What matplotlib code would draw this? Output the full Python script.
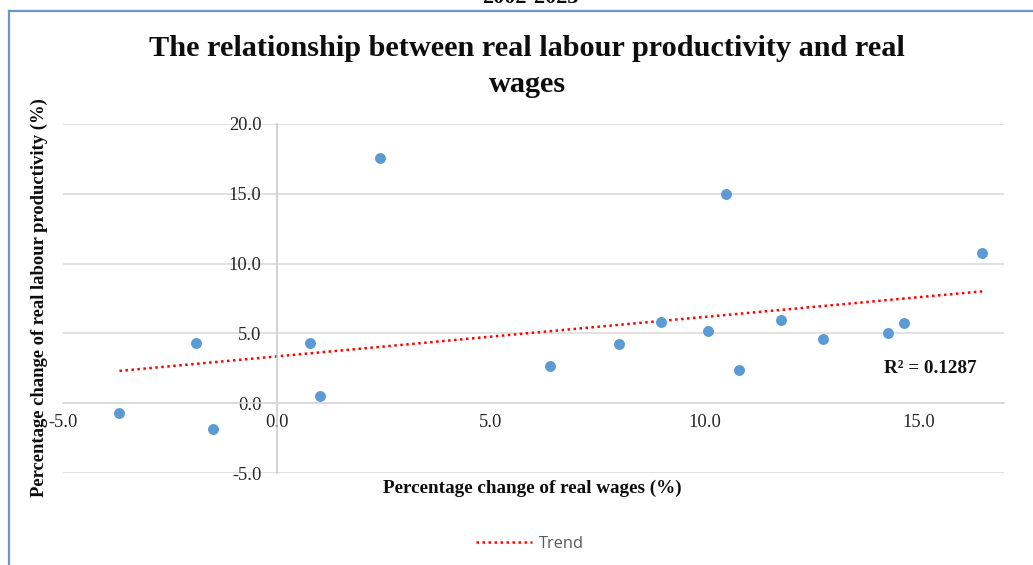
import numpy as np
import matplotlib
matplotlib.use("Agg")
import matplotlib.pyplot as plt
from matplotlib.lines import Line2D

# Annual percentage changes, 2002-2023
wage_change = [-3.68, -1.90, -1.49, 0.78, 1.02, 2.42, 6.39, 7.99, 8.98,
               10.07, 10.50, 10.80, 11.79, 12.78, 14.29, 14.66, 16.49]
productivity_change = [-0.68, 4.34, -1.87, 4.34, 0.55, 17.60, 2.63, 4.24, 5.83,
                       5.15, 14.95, 2.40, 5.95, 4.58, 5.00, 5.71, 10.73]
x_ticks = [-5, 0, 5, 10, 15]
y_ticks = [-5, 0, 5, 10, 15, 20]
r_squared_label = "R\u00b2 = 0.1287"

SERIF = "Liberation Serif"
GRID = "#d9d9d9"
AXIS = "#c8c8c8"
DOT = "#5b9bd5"
TICK_TXT = "#262626"

fig = plt.figure(figsize=(10.33, 5.65), dpi=100)
W, H = 1033, 565
ax = fig.add_axes([63 / W, 1 - 473 / H, (1004 - 63) / W, (473 - 124) / H])

ax.set_xlim(-5, 17)
ax.set_ylim(-5, 20)
ax.set_xticks(x_ticks)
ax.set_yticks(y_ticks)
ax.set_xticklabels([f"{v:.1f}" for v in x_ticks])
ax.set_yticklabels([f"{v:.1f}" for v in y_ticks])

# Axes cross at the origin, Excel style
for side in ("top", "right"):
    ax.spines[side].set_visible(False)
ax.spines["left"].set_position(("data", 0))
ax.spines["bottom"].set_position(("data", 0))
ax.spines["left"].set_color(AXIS)
ax.spines["left"].set_linewidth(1.1)
ax.spines["bottom"].set_color(GRID)
ax.spines["bottom"].set_linewidth(1.1)
ax.tick_params(axis="both", length=0, labelsize=13.3, labelcolor=TICK_TXT)
ax.tick_params(axis="y", pad=11)
ax.tick_params(axis="x", pad=8)
for lab in ax.get_xticklabels() + ax.get_yticklabels():
    lab.set_fontfamily(SERIF)

ax.yaxis.grid(True, color=GRID, linewidth=1.1)
ax.xaxis.grid(False)
ax.set_axisbelow(True)

# Scatter points
ax.scatter(wage_change, productivity_change, s=62, color=DOT, zorder=3,
           linewidths=0)

# Linear trend over the data range
x = np.array(wage_change)
y = np.array(productivity_change)
slope, intercept = np.polyfit(x, y, 1)
xs = np.array([x.min(), x.max()])
trend, = ax.plot(xs, slope * xs + intercept, color="#ff0000", linewidth=1.8,
                 linestyle=(0, (1, 1.4)), label="Trend", zorder=2)

ax.text(14.2, 2.45, r_squared_label, fontfamily=SERIF, fontweight="bold",
        fontsize=13.8, color="#111111", va="center", ha="left")

# Titles and axis labels
fig.text(527 / W, 1 - 49 / H, "The relationship between real labour productivity and real",
         fontfamily=SERIF, fontweight="bold", fontsize=21.8, ha="center", va="center",
         color="#0d0d0d")
fig.text(527 / W, 1 - 84 / H, "wages", fontfamily=SERIF, fontweight="bold",
         fontsize=21.8, ha="center", va="center", color="#0d0d0d")
fig.text(530 / W, 1 - 3 / H, "2002-2023", fontfamily=SERIF, fontweight="bold",
         fontsize=16, ha="center", va="baseline", color="#0d0d0d")

fig.text(532 / W, 1 - 488 / H, "Percentage change of real wages (%)",
         fontfamily=SERIF, fontweight="bold", fontsize=13.8, ha="center",
         va="center", color="#0d0d0d")
fig.text(39 / W, 1 - 298 / H, "Percentage change of real labour productivity (%)",
         fontfamily=SERIF, fontweight="bold", fontsize=13.4, ha="center",
         va="center", rotation=90, color="#0d0d0d")

# Legend at the bottom
leg = fig.legend(handles=[trend], loc="center", bbox_to_anchor=(530 / W, 1 - 544 / H),
                 frameon=False, handlelength=3.4, handletextpad=0.45,
                 prop={"family": "Open Sans", "size": 11.8})
for t in leg.get_texts():
    t.set_color("#595959")

# Chart area border (left and top edges)
border = "#6a93cf"
fig.add_artist(Line2D([9 / W, 9 / W], [0, 1 - 11 / H], transform=fig.transFigure,
                      color=border, linewidth=1.6))
fig.add_artist(Line2D([9 / W, 1], [1 - 11 / H, 1 - 11 / H], transform=fig.transFigure,
                      color=border, linewidth=1.6))

fig.savefig("out.png", dpi=100)
